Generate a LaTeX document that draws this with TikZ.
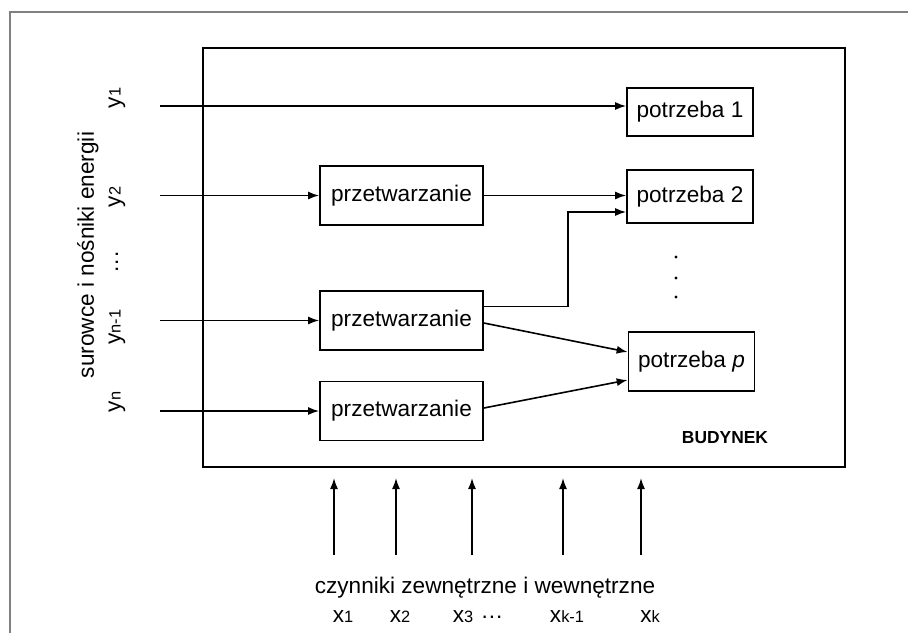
\documentclass[tikz,border=0pt]{standalone}
\usepackage{fontspec}
\setmainfont{Liberation Sans}
\usetikzlibrary{arrows.meta}

\newcommand{\zm}[2]{#1{\fontsize{8.2}{8}\selectfont #2}}

\begin{document}
\begin{tikzpicture}[x=0.5pt,y=-0.5pt,
  font=\fontsize{11.3}{13}\selectfont,
  blok/.style={draw, line width=0.85pt, inner sep=0pt, minimum width=81.5pt, minimum height=29.5pt},
  potrzeba/.style={draw, line width=0.85pt, inner sep=0pt, minimum width=63pt},
  strz/.style={-{Latex[length=5.5pt,width=4pt]}, line width=0.8pt}]
                \useasboundingbox (0,0) rectangle (908,633);
                \draw [gray, line width=1pt] (10,633) -- (10,12) -- (908,12);
                \node [draw, line width=1pt, minimum width=321pt, minimum height=209.5pt] (budynek) at (524,257.5) {};
                \node [font=\bfseries\fontsize{8.7}{10}\selectfont] (nazwa) at (725,438) {BUDYNEK};
                % bloki przetwarzania i potrzeby
                \node [blok] (prz1) at (401.5,195.5) {przetwarzanie};
                \node [blok] (prz2) at (401.5,320.5) {przetwarzanie};
                \node [blok] (prz3) at (401.5,411) {przetwarzanie};
                \node [potrzeba, minimum height=24pt] (pot1) at (690,112) {potrzeba 1};
                \node [potrzeba, minimum height=26.5pt] (pot2) at (690,196.5) {potrzeba 2};
                \node [potrzeba, minimum height=29.5pt] (potp) at (691.5,361.5) {potrzeba \textit{p}};
                \foreach \d in {257,278,297} \fill (676,\d) circle (1.6);
                % wejscia y
                \coordinate (y1) at (160,106);
                \coordinate (y2) at (160,195.5);
                \coordinate (yn1) at (160,320.5);
                \coordinate (yn) at (160,411);
                \draw [strz] (y1) -- (pot1.west |- y1);
                \draw [strz] (y2) -- (prz1.west);
                \draw [strz] (yn1) -- (prz2.west);
                \draw [strz] (yn) -- (prz3.west);
                \draw [strz] (prz1.east) -- (pot2.west |- prz1.east);
                \draw [strz] ([yshift=7pt]prz2.east) -- ++(84,0) |- ([yshift=-7.75pt]pot2.west);
                \draw [strz] ([yshift=-1.25pt]prz2.east) -- ([yshift=4.75pt]potp.west);
                \draw [strz] ([yshift=1.5pt]prz3.east) -- ([yshift=-9.25pt]potp.west);
                \node [rotate=90] (opisy) at (88,255) {surowce i nośniki energii};
                \node [rotate=90] (ly1) at (117,98) {\zm{y}{1}};
                \node [rotate=90] (ly2) at (117,197) {\zm{y}{2}};
                \node [rotate=90] (lyd) at (117,262) {.\kern0.5pt.\kern0.5pt.};
                \node [rotate=90] (lyn1) at (117,327) {\zm{y}{n-1}};
                \node [rotate=90] (lyn) at (117,402) {\zm{y}{n}};
                % wejscia x
                \foreach \x [count=\i] in {334,396,472,563,641} {
                  \coordinate (d\i) at (\x,555);
                  \coordinate (g\i) at (\x,478);
                  \draw [strz] (d\i) -- (g\i);
                }
                \node (opisx) at (485,588) {czynniki zewnętrzne i wewnętrzne};
                \node (lx1) at (343,617) {\zm{x}{1}};
                \node (lx2) at (400,617) {\zm{x}{2}};
                \node (lx3) at (463,617) {\zm{x}{3}};
                \node (lxd) at (492,617) {.\kern0.5pt.\kern0.5pt.};
                \node (lxk1) at (567,617) {\zm{x}{k-1}};
                \node (lxk) at (650,617) {\zm{x}{k}};
            \end{tikzpicture}
\end{document}
